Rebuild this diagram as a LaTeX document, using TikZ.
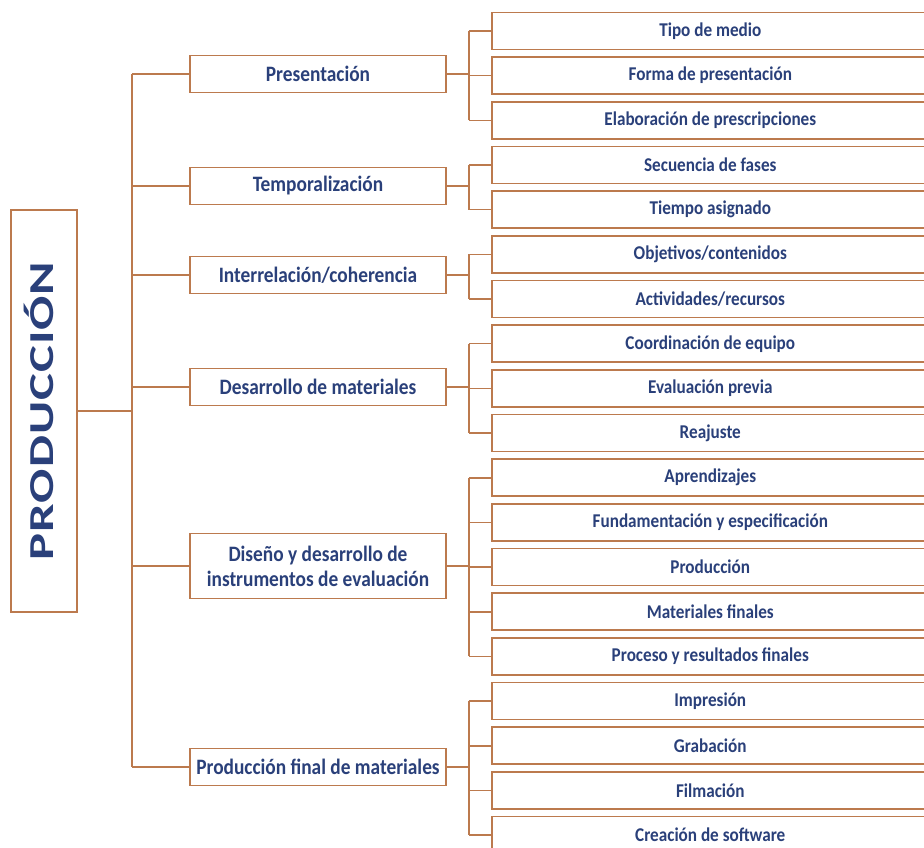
\documentclass[tikz,border=0pt]{standalone}
\usepackage{fontspec}
\setmainfont{Carlito}
\newfontfamily\angosta{Carlito}[FakeStretch=0.88]
\newfontfamily\ancha{Carlito}[FakeStretch=1.45,LetterSpace=3]
\usetikzlibrary{calc}
\definecolor{borde}{RGB}{188,122,78}
\definecolor{azul}{RGB}{42,64,122}

\begin{document}
\begin{tikzpicture}[x=1pt,y=-1pt,
    caja/.style={draw=borde,line width=1.6pt,fill=white,text=azul,inner sep=0pt,align=center},
    raiz/.style={caja,rotate=90,minimum width=402pt,minimum height=66pt,text height=23pt,text depth=4pt,
        font=\ancha\bfseries\fontsize{35}{40}\selectfont},
    rama/.style={caja,minimum width=256pt,minimum height=37pt,font=\angosta\bfseries\fontsize{22}{25}\selectfont},
    hoja/.style={caja,anchor=west,minimum width=437pt,minimum height=37pt,font=\angosta\bfseries\fontsize{19.5}{22}\selectfont},
    linea/.style={draw=borde,line width=1.6pt}]
    \useasboundingbox (0,0) rectangle (924,848);
    \clip (0,0) rectangle (924,848);

    \foreach \nombre/\texto [count=\i from 0] in {tipo/Tipo de medio, forma/Forma de presentación,
        elab/Elaboración de prescripciones, secu/Secuencia de fases, tiempo/Tiempo asignado,
        objet/{Objetivos/contenidos}, activ/{Actividades/recursos}, coord/Coordinación de equipo,
        evalp/Evaluación previa, reaj/Reajuste, aprend/Aprendizajes,
        fund/Fundamentación y especificación, produ/Producción, matf/Materiales finales,
        proc/Proceso y resultados finales, impr/Impresión, grab/Grabación, film/Filmación,
        soft/Creación de software}
        \node[hoja] (\nombre) at (491,{31+44.67*\i}) {\texto};

    \node[rama] (pres) at (318,74) {Presentación};
    \node[rama] (temp) at (318,186) {Temporalización};
    \node[rama] (inter) at (318,275) {Interrelación/coherencia};
    \node[rama] (desa) at (318,387) {Desarrollo de materiales};
    \node[rama,minimum height=65pt] (dise) at (318,566) {Diseño y desarrollo de\\instrumentos de evaluación};
    \node[rama] (prodf) at (318,767) {Producción final de materiales};

    \node[raiz] (prod) at (44,411) {PRODUCCIÓN};

    \coordinate (tronco) at (132,411);
    \draw[linea] (prod.south) -- (tronco);
    \draw[linea] (tronco |- pres.west) -- (tronco |- prodf.west);
    \foreach \r in {pres,temp,inter,desa,dise,prodf}
        \draw[linea] (tronco |- \r.west) -- (\r.west);

    \foreach \r/\primera/\ultima/\hijos in {pres/tipo/elab/{tipo,forma,elab},
        temp/secu/tiempo/{secu,tiempo}, inter/objet/activ/{objet,activ},
        desa/coord/reaj/{coord,evalp,reaj}, dise/aprend/proc/{aprend,fund,produ,matf,proc},
        prodf/impr/soft/{impr,grab,film,soft}}{
        \coordinate (nudo) at ($(\r.east)+(22,0)$);
        \draw[linea] (\r.east) -- (nudo);
        \draw[linea] (nudo |- \primera.west) -- (nudo |- \ultima.west);
        \foreach \h in \hijos
            \draw[linea] (nudo |- \h.west) -- (\h.west);
    }

\end{tikzpicture}
\end{document}
